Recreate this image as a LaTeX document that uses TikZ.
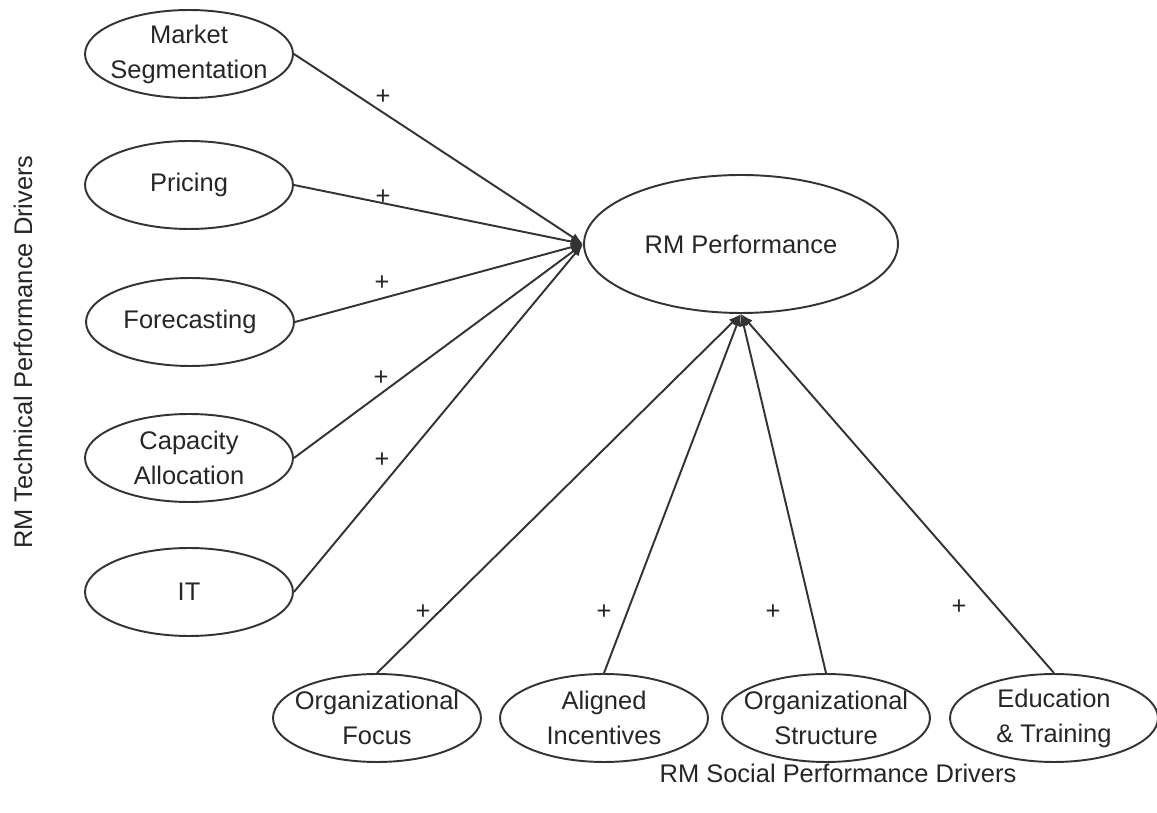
\documentclass[tikz,border=0pt]{standalone}
\usepackage{fontspec}
\setmainfont{Liberation Sans}
\usetikzlibrary{shapes.geometric, arrows.meta}

\tikzset{
    driver/.style={draw=black!80, ellipse, line width=1.1pt, inner sep=-1cm,
        minimum width=4.16cm, minimum height=1.76cm, align=center},
    outcome/.style={driver, minimum width=6.28cm, minimum height=2.76cm},
    link/.style={draw=black!80, line width=1.1pt, -{Latex[length=7pt,width=5pt]}},
    sign/.style={inner sep=0pt}
}

\begin{document}
\begin{tikzpicture}[x=0.02cm, y=-0.02cm, text=black!85,
    font=\fontsize{14.5}{20}\selectfont]
    \useasboundingbox (0,0) rectangle (1157,813);

    % outcome
    \node[outcome] (rm) at (741,244) {RM Performance};

    % technical drivers
    \node[driver] (segment) at (189,54) {Market\\Segmentation};
    \node[driver] (pricing) at (189,185) {Pricing};
    \node[driver] (forecast) at (190,322) {Forecasting};
    \node[driver] (capacity) at (189,458) {Capacity\\Allocation};
    \node[driver] (it) at (189,592) {IT};

    % social drivers
    \node[driver] (focus) at (377,718) {Organizational\\Focus};
    \node[driver] (incent) at (604,718) {Aligned\\Incentives};
    \node[driver] (struct) at (826,718) {Organizational\\Structure};
    \node[driver] (edu) at (1054,718) {Education\\\& Training};

    \draw[link] (segment.east) -- (rm.west);
    \draw[link] (pricing.east) -- (rm.west);
    \draw[link] (forecast.east) -- (rm.west);
    \draw[link] (capacity.east) -- (rm.west);
    \draw[link] (it.east) -- (rm.west);

    \draw[link] (focus.north) -- (rm.south);
    \draw[link] (incent.north) -- (rm.south);
    \draw[link] (struct.north) -- (rm.south);
    \draw[link] (edu.north) -- (rm.south);

    \node[sign] (s1) at (383,97) {+};
    \node[sign] (s2) at (383,197) {+};
    \node[sign] (s3) at (382,283) {+};
    \node[sign] (s4) at (381,378) {+};
    \node[sign] (s5) at (382,460) {+};
    \node[sign] (s6) at (423,612) {+};
    \node[sign] (s7) at (604,612) {+};
    \node[sign] (s8) at (773,612) {+};
    \node[sign] (s9) at (959,607) {+};

    \node[rotate=90] (techlabel) at (23,352) {RM Technical Performance Drivers};
    \node (sociallabel) at (838,773) {RM Social Performance Drivers};
\end{tikzpicture}
\end{document}
